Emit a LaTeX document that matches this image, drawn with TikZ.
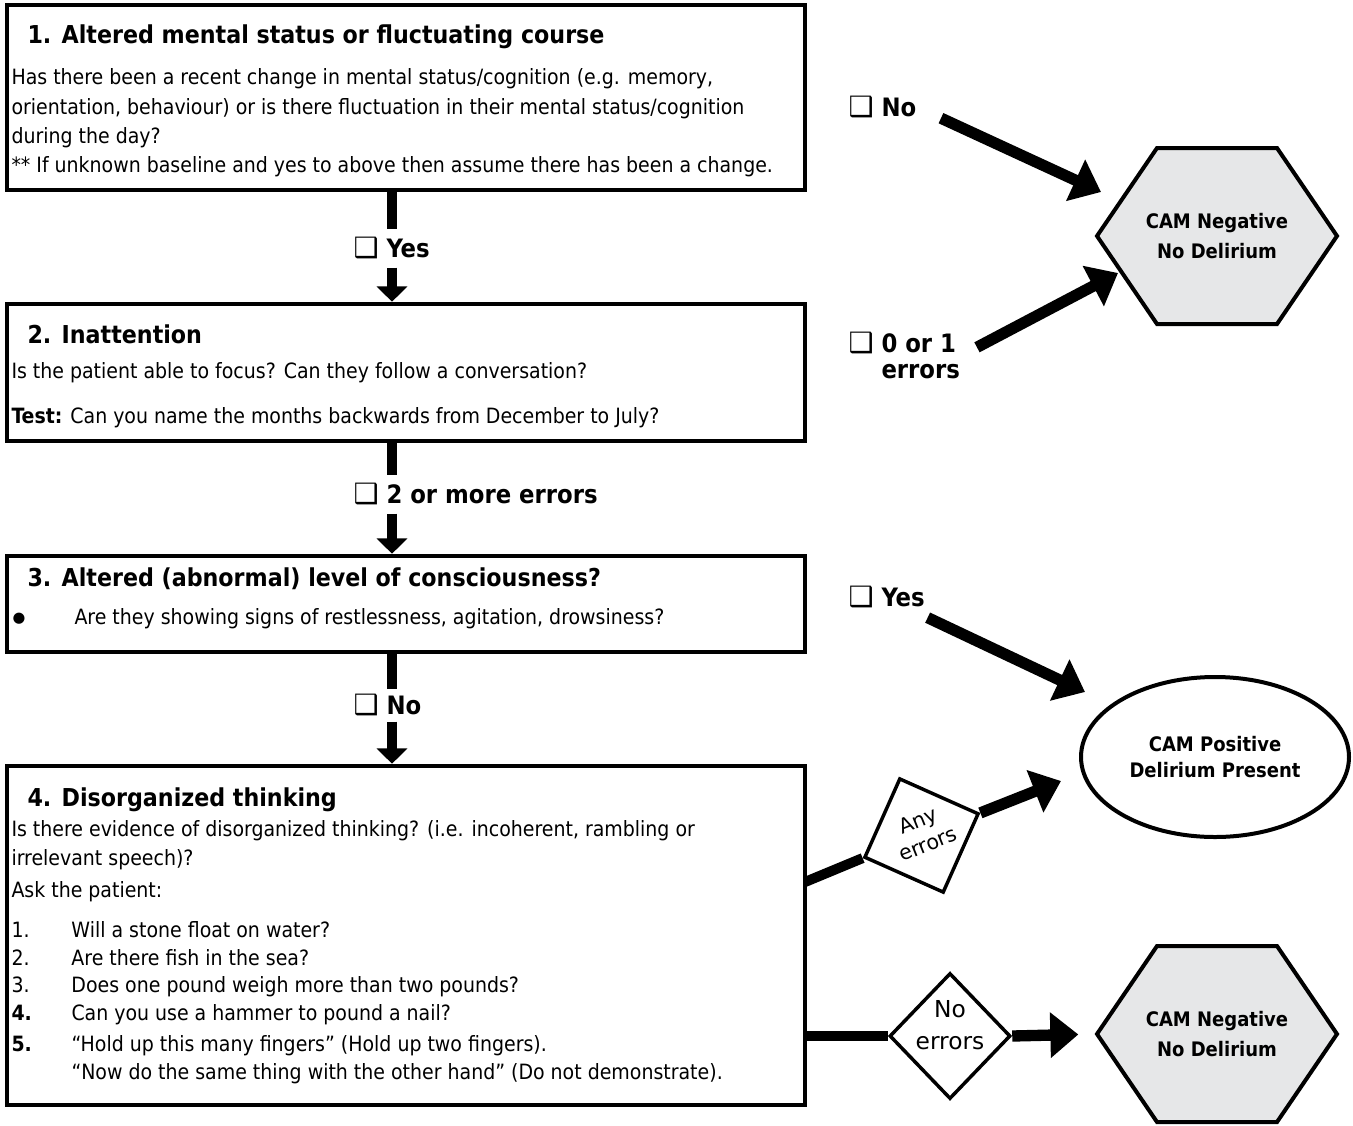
\documentclass[tikz,border=0pt]{standalone}
\usepackage{fontspec}
\setmainfont{DejaVuSansCondensed.ttf}[BoldFont=DejaVuSansCondensed-Bold.ttf]
\newfontfamily\widefont{DejaVu Sans}
\newfontfamily\symfont{DejaVu Sans}
\usetikzlibrary{arrows.meta,shapes.geometric,calc,backgrounds}

\definecolor{hexgray}{RGB}{230,231,232}
\newcommand{\chk}{{\symfont\fontsize{21}{20}\selectfont ❑}}

\tikzset{every picture/.style={line width=0.75pt}}
\tikzset{
  stepbox/.style={draw, line width=3.4pt, minimum width=598.5pt, inner sep=0pt},
  title/.style={inner sep=0pt, font=\bfseries\fontsize{18.5}{22}\selectfont},
  body/.style={inner sep=0pt, align=left, font=\fontsize{15.8}{22}\selectfont},
  lbl/.style={inner sep=0pt, minimum height=28.5pt, font=\bfseries\fontsize{19}{20}\selectfont},
  stem/.style={line width=7.5pt},
  flow/.style={line width=7.5pt, -{Triangle[width=22.5pt,length=11.5pt]}},
  bigflow/.style={line width=8.5pt, -{Triangle[width=33pt,length=21pt]}},
  outcome/.style={inner sep=0pt, outer sep=0pt, align=center, minimum width=180pt, minimum height=132pt,
    font=\bfseries\fontsize{15}{22.5}\selectfont},
  hexline/.style={draw, fill=hexgray, line width=3pt},
  decision/.style={draw, diamond, line width=2.6pt, inner sep=0pt, fill=white},
  dectext/.style={inner sep=0pt, align=center, font=\widefont\fontsize{17.5}{24}\selectfont}
}

\begin{document}
\begin{tikzpicture}[x=0.75pt,y=0.75pt,yscale=-1,xscale=1]
\useasboundingbox (0,0) rectangle (1353,1125);
\coordinate (spine) at (392,0);

%Shape: Rectangle [box1]
\node[stepbox, minimum height=138.75pt] (box1) at (406,97.5) {};
% Text Node
\node[title, anchor=base west] (t1) at (27,43) {1. Altered mental status or fluctuating course};
% Text Node
\node[body, anchor=north west] (b1) at (11,68.4) {Has there been a recent change in mental status/cognition (e.g. memory,\\orientation, behaviour) or is there fluctuation in their mental status/cognition\\during the day?\\** If unknown baseline and yes to above then assume there has been a change.};

%Shape: Rectangle [box2]
\node[stepbox, minimum height=102.75pt] (box2) at (406,372.5) {};
% Text Node
\node[title, anchor=base west] (t2) at (27,343) {2. Inattention};
% Text Node
\node[body, anchor=base west] (b2a) at (11,378.4) {Is the patient able to focus? Can they follow a conversation?};
% Text Node
\node[body, anchor=base west] (b2b) at (11,423.4) {\textbf{Test:} Can you name the months backwards from December to July?};

%Shape: Rectangle [box3]
\node[stepbox, minimum height=72pt] (box3) at (406,604) {};
% Text Node
\node[title, anchor=base west] (t3) at (27,586) {3. Altered (abnormal) level of consciousness?};
% Text Node
\node[body, anchor=base west] (b3dot) at (12,624) {\raisebox{1.2pt}{\symfont\fontsize{11}{11}\selectfont ●}};
\node[body, anchor=base west] (b3) at (74,624) {Are they showing signs of restlessness, agitation, drowsiness?};

%Shape: Rectangle [box4]
\node[stepbox, minimum height=254.25pt] (box4) at (406,935.5) {};
% Text Node
\node[title, anchor=base west] (t4) at (27,806) {4. Disorganized thinking};
% Text Node
\node[body, anchor=north west] (b4a) at (11,819.5) {Is there evidence of disorganized thinking? (i.e. incoherent, rambling or\\irrelevant speech)?};
\node[body, anchor=base west] (b4b) at (11,897) {Ask the patient:};
\node[body, anchor=north west, font=\fontsize{15.8}{20.8}\selectfont] (b4list) at (11,921) {\makebox[45pt][l]{1.}Will a stone float on water?\\
  \makebox[45pt][l]{2.}Are there fish in the sea?\\
  \makebox[45pt][l]{3.}Does one pound weigh more than two pounds?\\
  \makebox[45pt][l]{\textbf{4.}}Can you use a hammer to pound a nail?\\[2.5pt]
  \makebox[45pt][l]{\textbf{5.}}“Hold up this many fingers” (Hold up two fingers).\\
  \hspace*{45pt}“Now do the same thing with the other hand” (Do not demonstrate).};

% Text Node
\node[lbl, anchor=west] (lblyes1) at (353,248) {\chk\ Yes};
\node[lbl, anchor=west] (lblmore) at (353,494) {\chk\ 2 or more errors};
\node[lbl, anchor=west, minimum height=24pt] (lblno1) at (353,705) {\chk\ No};
\node[lbl, anchor=west] (lblno2) at (848,107) {\chk\ No};
\node[lbl, anchor=west, align=left] (lbl01) at (848,356) {\chk\ 0 or 1\\\phantom{\chk\ }errors};
\node[lbl, anchor=west] (lblyes2) at (848,597) {\chk\ Yes};

%Shape: Hexagon [hexneg1]
\node[outcome] (hexneg1) at (1217,236) {CAM Negative\\No Delirium};
%Shape: Ellipse [campos]
\node[outcome, draw, ellipse, line width=3pt, outer sep=1.5pt, minimum width=201pt, minimum height=120pt,
  font=\bfseries\fontsize{15}{19}\selectfont] (campos) at (1215,757) {CAM Positive\\Delirium Present};
%Shape: Hexagon [hexneg2]
\node[outcome] (hexneg2) at (1217,1034) {CAM Negative\\No Delirium};
\begin{scope}[on background layer]
\draw[hexline] (hexneg1.west) -- ($(hexneg1.north west)!.25!(hexneg1.north east)$) -- ($(hexneg1.north west)!.75!(hexneg1.north east)$) -- (hexneg1.east) -- ($(hexneg1.south west)!.75!(hexneg1.south east)$) -- ($(hexneg1.south west)!.25!(hexneg1.south east)$) -- cycle;
\draw[hexline] (hexneg2.west) -- ($(hexneg2.north west)!.25!(hexneg2.north east)$) -- ($(hexneg2.north west)!.75!(hexneg2.north east)$) -- (hexneg2.east) -- ($(hexneg2.south west)!.75!(hexneg2.south east)$) -- ($(hexneg2.south west)!.25!(hexneg2.south east)$) -- cycle;
\end{scope}

%Shape: Diamond [anydiam]
\node[decision, rotate=21, minimum width=92pt, minimum height=92pt] (anydiam) at (921.5,835.5) {};
\node[dectext, rotate=22, font=\widefont\fontsize{15.5}{19}\selectfont] (anytxt) at (923,832) {Any\\errors};
%Shape: Diamond [noerr]
\node[decision, minimum width=90.75pt, minimum height=94.5pt] (noerr) at (950,1036) {};
\node[dectext] (noerrtxt) at (950,1025) {No\\errors};

\coordinate (tipno) at (1101,192);
\coordinate (tip01) at (1118,273);
\coordinate (tipyes) at (1085,692);
\coordinate (tipany) at (1061,781);
\coordinate (forkany) at (805,882);

%Straight Lines
\draw[stem] (box1.south -| spine) -- (lblyes1.north -| spine);
\draw[flow] (lblyes1.south -| spine) -- (box2.north -| spine);
\draw[stem] (box2.south -| spine) -- (lblmore.north -| spine);
\draw[flow] (lblmore.south -| spine) -- (box3.north -| spine);
\draw[stem] (box3.south -| spine) -- (lblno1.north -| spine);
\draw[flow] (lblno1.south -| spine) -- (box4.north -| spine);

%Straight Lines
\draw[bigflow, shorten <=20pt] (lblno2.east) -- (tipno);
\draw[bigflow, shorten <=14pt] (lbl01.east) -- (tip01);
\draw[bigflow, shorten <=2pt] (lblyes2.south east) -- (tipyes);
\draw[stem] (forkany) -- (anydiam.west);
\draw[bigflow] (anydiam.east) -- (tipany);
\draw[stem] (box4.east |- noerr.west) -- (noerr.west);
\draw[bigflow, shorten >=14pt] (noerr.east) -- (hexneg2.west);

\end{tikzpicture}
\end{document}
